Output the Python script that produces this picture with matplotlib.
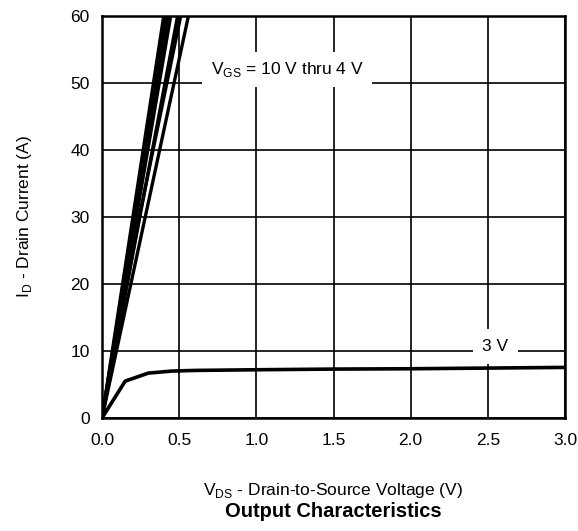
import numpy as np
import matplotlib
matplotlib.use("Agg")
import matplotlib.pyplot as plt

plt.rcParams['font.family'] = ['Liberation Sans', 'DejaVu Sans']

# VGS = 10 V thru 4 V: drain-source voltage where each curve reaches 60 A
vds_high = [[0.0, 0.40], [0.0, 0.415], [0.0, 0.43], [0.0, 0.445],
            [0.0, 0.49], [0.0, 0.25, 0.51], [0.0, 0.56]]
id_high = [[0, 60], [0, 60], [0, 60], [0, 60],
           [0, 60], [0, 31, 60], [0, 60]]

# VGS = 3 V
vds_3v = [0.0, 0.15, 0.3, 0.45, 0.6, 1.0, 1.5, 2.0, 2.5, 3.0]
id_3v = [0.0, 5.5, 6.7, 7.0, 7.1, 7.2, 7.3, 7.35, 7.45, 7.55]

xticks = [0.0, 0.5, 1.0, 1.5, 2.0, 2.5, 3.0]
yticks = [0, 10, 20, 30, 40, 50, 60]

fig = plt.figure(figsize=(5.78, 5.31), dpi=100)
ax = fig.add_axes([0.1765, 0.2128, 0.8010, 0.7572])

for x, y in zip(vds_high, id_high):
    ax.plot(x, y, color='black', lw=2.4, solid_capstyle='butt')
ax.plot(vds_3v, id_3v, color='black', lw=2.6)

ax.set_xlim(0, 3.0)
ax.set_ylim(0, 60)
ax.set_xticks(xticks)
ax.set_xticklabels([f"{v:.1f}" for v in xticks])
ax.set_yticks(yticks)
ax.grid(True, color='black', lw=1.2)
ax.set_axisbelow(True)
ax.tick_params(length=0, labelsize=12.5)
ax.tick_params(axis='x', pad=11)
ax.tick_params(axis='y', pad=9)
for s in ax.spines.values():
    s.set_linewidth(1.8)

ax.text(1.2, 52, r"V$_{\mathregular{GS}}$ = 10 V thru 4 V", fontsize=12.5,
        ha='center', va='center',
        bbox=dict(facecolor='white', edgecolor='none', pad=6))
ax.text(2.55, 10.7, "3 V", fontsize=12.5, ha='center', va='center',
        bbox=dict(facecolor='white', edgecolor='none', pad=7))

ax.set_ylabel(r"I$_{\mathregular{D}}$ - Drain Current (A)", fontsize=12.5, labelpad=26)
fig.text(0.5765, 0.077, r"V$_{\mathregular{DS}}$ - Drain-to-Source Voltage (V)",
         fontsize=12.5, ha='center', va='center')
fig.text(0.5765, 0.036, "Output Characteristics", fontsize=14.5,
         fontweight='bold', ha='center', va='center')

fig.savefig("out.png", dpi=100)
